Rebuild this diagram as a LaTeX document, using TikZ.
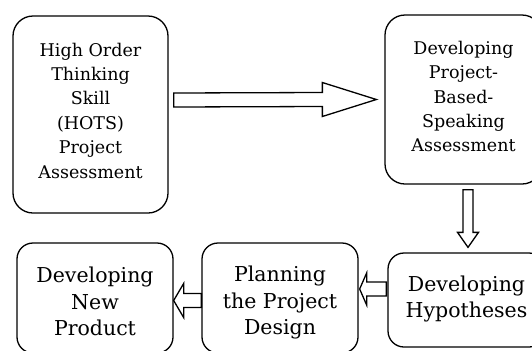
\documentclass[tikz,border=0pt]{standalone}
\usepackage{fontspec}
\setmainfont{DejaVu Serif}
\usetikzlibrary{calc}
\tikzset{
  boxA/.style={draw, line width=1.3bp, rounded corners=20bp, inner sep=0pt},
  boxB/.style={draw, line width=1.3bp, rounded corners=16bp, inner sep=0pt},
  txtA/.style={align=center, inner sep=0pt, font=\fontsize{17.5bp}{24.4bp}\selectfont},
  txtB/.style={align=center, inner sep=0pt, font=\fontsize{20.5bp}{26.3bp}\selectfont},
  blk/.style={draw, line width=1.3bp, fill=white, line join=miter}
}
\begin{document}
\begin{tikzpicture}[x=1bp, y=-1bp]
\useasboundingbox (0,0) rectangle (532,350);
\clip (0,0) rectangle (532,350);
% boxes
\node[boxA, minimum width=155bp, minimum height=197bp] (hots) at (90.5,114.5) {};
\node[boxA, minimum width=157bp, minimum height=169bp] (dpbs) at (463.5,99.5) {};
\node[boxB, minimum width=157bp, minimum height=94bp] (hyp) at (466.5,300) {};
\node[boxB, minimum width=156bp, minimum height=110bp] (plan) at (280,298) {};
\node[boxB, minimum width=156bp, minimum height=110bp] (newp) at (95,298) {};
% texts
\node[txtA] (hotsT) at ($(hots.center)+(0,-4)$)
  {High Order\\Thinking\\Skill\\(HOTS)\\Project\\Assessment};
\node[txtA] (dpbsT) at ($(dpbs.center)+(0,-3)$)
  {Developing\\Project-\\Based-\\Speaking\\Assessment};
\node[txtB] (hypT) at ($(hyp.center)+(0,-1)$) {Developing\\Hypotheses};
\node[txtB] (planT) at ($(plan.center)+(0,4.5)$) {Planning\\the Project\\Design};
\node[txtB] (newpT) at ($(newp.center)+(0,3.5)$) {Developing\\New\\Product};
% arrow end points
\coordinate (a1s) at ($(hots.east)+(5,-14.5)$);
\coordinate (a1t) at ($(dpbs.west)+(-8,0)$);
\coordinate (a2s) at ($(dpbs.south)+(4.5,5)$);
\coordinate (a2t) at ($(hyp.north)+(1.5,-5)$);
\coordinate (a3s) at ($(hyp.west)+(-1,-11)$);
\coordinate (a3t) at ($(plan.east)+(1,-9)$);
\coordinate (a4s) at ($(plan.west)+(0,2.5)$);
\coordinate (a4t) at ($(newp.east)+(0,2.5)$);
% right block arrow
\draw[blk] ($(a1s)+(0,-7)$) -- ($(a1t)+(-54,-7)$) -- ($(a1t)+(-54,-17)$) -- (a1t)
  -- ($(a1t)+(-54,17)$) -- ($(a1t)+(-54,7)$) -- ($(a1s)+(0,7)$) -- cycle;
% down block arrow
\draw[blk] ($(a2s)+(-5,0)$) -- ($(a2t)+(-5,-15)$) -- ($(a2t)+(-10.5,-15)$) -- (a2t)
  -- ($(a2t)+(10.5,-15)$) -- ($(a2t)+(5,-15)$) -- ($(a2s)+(5,0)$) -- cycle;
% left block arrow (hypotheses -> planning)
\draw[blk] ($(a3s)+(0,-7)$) -- ($(a3t)+(7,-7)$) -- ($(a3t)+(7,-16)$) -- (a3t)
  -- ($(a3t)+(7,16)$) -- ($(a3t)+(7,7)$) -- ($(a3s)+(0,7)$) -- cycle;
% left block arrow (planning -> new product)
\draw[blk] ($(a4s)+(0,-7)$) -- ($(a4t)+(10,-7)$) -- ($(a4t)+(10,-17)$) -- (a4t)
  -- ($(a4t)+(10,17)$) -- ($(a4t)+(10,7)$) -- ($(a4s)+(0,7)$) -- cycle;
\end{tikzpicture}
\end{document}
